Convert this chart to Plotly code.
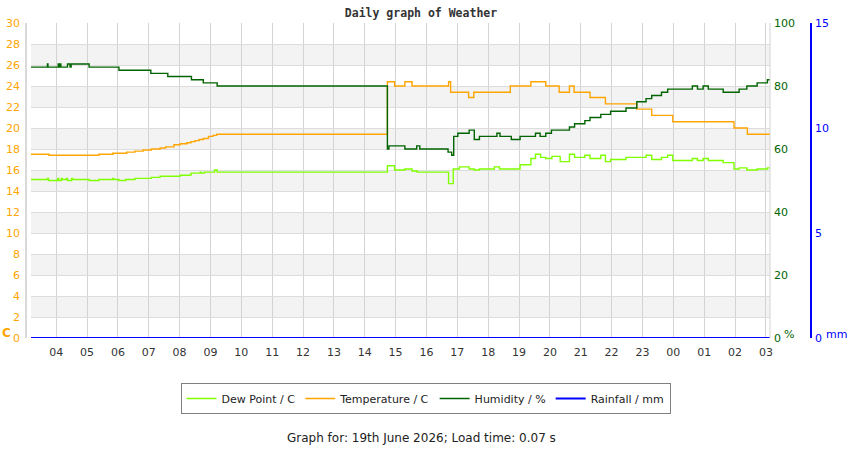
import plotly.graph_objects as go
import pandas as pd

# ---------------- data ----------------
BASE_DAY = "2026-06-18"
START_TIME = "03:10"

hum_times = ["03:10", "03:43", "03:44", "04:04", "04:06", "04:08", "04:09", "04:22", "04:27",
             "04:29", "05:04", "06:02", "07:04", "07:37",
             "08:23", "08:46", "09:13", "14:44", "14:47", "15:18", "15:41", "15:47", "16:42",
             "16:49", "16:53", "17:01", "17:23", "17:33", "17:43", "18:17", "18:23", "18:45",
             "19:02", "19:32", "19:41", "19:52", "20:03", "20:38", "20:48", "21:08", "21:18",
             "21:39", "21:58", "22:28", "22:49", "23:07", "23:18", "23:37", "23:49", "00:37",
             "00:47", "00:58", "01:08", "01:37", "02:08", "02:23", "02:43", "03:03", "03:08"]
hum_values = [86, 87, 86, 87, 86, 87, 86, 87, 86,
              87, 86, 85, 84, 83,
              82, 81, 80, 60, 61, 60, 61, 60, 59,
              58, 64, 65, 66, 63, 64, 65, 64, 63,
              64, 65, 64, 65, 66, 67, 68, 69, 70,
              71, 72, 73, 75, 76, 77, 78, 79, 80,
              79, 80, 79, 78, 79, 80, 81, 82, 82]

temp_times = ["03:10", "03:46", "05:23", "05:50", "06:17", "06:33", "06:49", "07:05", "07:22",
              "07:33", "07:49", "08:01", "08:14", "08:22", "08:30", "08:38", "08:46", "08:56",
              "09:05", "09:12", "14:44", "14:58", "15:18", "15:32", "16:43", "16:47", "17:22",
              "17:32", "18:43", "19:23", "19:52", "20:18", "20:38", "20:47", "21:18", "21:48",
              "22:49", "23:18", "23:59", "01:58", "02:24", "03:08"]
temp_values = [17.5, 17.4, 17.5, 17.6, 17.7, 17.8, 17.9, 18.0, 18.1,
               18.2, 18.4, 18.5, 18.6, 18.7, 18.8, 18.9, 19.0, 19.2,
               19.3, 19.4, 24.4, 24.0, 24.4, 24.0, 24.4, 23.4, 22.9,
               23.4, 24.0, 24.4, 24.0, 23.4, 24.0, 23.4, 22.9, 22.3,
               21.8, 21.2, 20.6, 20.0, 19.4, 19.4]

dew_times = ["03:10", "03:43", "03:45", "04:03", "04:05", "04:10", "04:12", "04:20", "04:22",
             "04:30", "04:32", "05:04", "05:23", "05:50", "05:52", "06:02", "06:15", "06:33",
             "07:05", "07:22", "08:01", "08:22", "08:40", "08:42", "08:48", "09:08", "09:13",
             "14:44", "14:58", "15:18", "15:32", "15:42", "16:43", "16:52", "17:04", "17:23",
             "17:33", "17:43", "18:12", "18:22", "19:02", "19:23", "19:32", "19:42", "19:52",
             "20:04", "20:20", "20:38", "20:48", "21:08", "21:18", "21:39", "21:48", "21:58",
             "22:28", "23:07", "23:18", "23:37", "23:49", "23:59", "00:37", "00:47", "00:58",
             "01:08", "01:37", "01:58", "02:08", "02:23", "02:43", "03:03", "03:08"]
dew_values = [15.1, 15.2, 15.0, 15.2, 15.0, 15.2, 15.1, 15.2, 15.0,
              15.2, 15.1, 15.0, 15.1, 15.2, 15.1, 15.0, 15.1, 15.2,
              15.3, 15.4, 15.5, 15.7, 15.8, 15.7, 15.8, 16.0, 15.8,
              16.4, 16.0, 16.1, 15.9, 15.8, 14.7, 16.1, 16.3, 16.1,
              16.0, 16.1, 16.3, 16.1, 16.5, 17.1, 17.5, 17.2, 17.1,
              17.3, 16.8, 17.5, 17.2, 17.4, 17.1, 17.4, 16.8, 17.0,
              17.2, 17.4, 17.0, 17.2, 17.4, 16.9, 17.1, 16.9, 17.1,
              16.9, 16.7, 16.1, 16.2, 16.0, 16.1, 16.2, 16.2]

rain_times = ["03:10", "03:08"]
rain_values = [0.0, 0.0]

x_range = ["2026-06-18 03:11", "2026-06-19 03:08"]
temp_ticks = list(range(0, 31, 2))
hum_ticks = [0, 20, 40, 60, 80, 100]
rain_ticks = [0, 5, 10, 15]

title_text = "Daily graph of Weather"
footer_text = "Graph for: 19th June 2026; Load time: 0.07 s"


def to_dt(times):
    base = pd.Timestamp(BASE_DAY)
    out = []
    for t in times:
        d = base + pd.Timedelta(days=1) if t < START_TIME else base
        out.append(pd.Timestamp(f"{d.date()} {t}"))
    return out


# ---------------- figure ----------------
C_DEW = "#7FFF00"
C_TEMP = "#FFA500"
C_HUM = "#006400"
C_RAIN = "#0000FF"
FONT = "DejaVu Sans"

fig = go.Figure()
fig.add_trace(go.Scatter(x=to_dt(dew_times), y=dew_values, name="Dew Point / C",
                         mode="lines", line=dict(color=C_DEW, width=1.4, shape="hv"), yaxis="y"))
fig.add_trace(go.Scatter(x=to_dt(temp_times), y=temp_values, name="Temperature / C",
                         mode="lines", line=dict(color=C_TEMP, width=1.4, shape="hv"), yaxis="y"))
fig.add_trace(go.Scatter(x=to_dt(hum_times), y=hum_values, name="Humidity / %",
                         mode="lines", line=dict(color=C_HUM, width=1.4, shape="hv"), yaxis="y2"))
fig.add_trace(go.Scatter(x=to_dt(rain_times), y=rain_values, name="Rainfall / mm",
                         mode="lines", line=dict(color=C_RAIN, width=2, shape="hv"), yaxis="y3"))

# alternating background bands
shapes = []
for lo in temp_ticks[1:-1:2]:
    shapes.append(dict(type="rect", xref="x domain", x0=0, x1=1, yref="y", y0=lo, y1=lo + 2,
                       fillcolor="#f3f3f3", line=dict(width=0), layer="below"))
# left axis line (offset) and right frame line
shapes.append(dict(type="line", xref="x domain", x0=-5 / 739, x1=-5 / 739, yref="paper", y0=0, y1=1,
                   line=dict(color="#cccccc", width=1.5)))
shapes.append(dict(type="line", xref="x domain", x0=1, x1=1, yref="paper", y0=0, y1=1,
                   line=dict(color="#d3d3d3", width=1)))

fig.update_layout(
    width=850, height=450,
    margin=dict(l=31, r=39, t=23, b=112, pad=0, autoexpand=False),
    paper_bgcolor="white", plot_bgcolor="white",
    font=dict(family=FONT, size=11, color="#333333"),
    title=dict(text=title_text, x=0.5, xref="paper", xanchor="center",
               y=1 - 13 / 450, yanchor="middle",
               font=dict(family="DejaVu Sans Mono", size=11.5, color="#333333", weight="bold")),
    xaxis=dict(type="date", domain=[0, 739 / 780], range=x_range, automargin=False,
               tick0="2026-06-18 00:00", dtick=3600000, tickformat="%H",
               showgrid=True, gridcolor="#d3d3d3", gridwidth=1,
               showline=False, zeroline=False, ticks="", ticklabelstandoff=6,
               tickfont=dict(size=11, color="#333333")),
    yaxis=dict(range=[0, 30], tickvals=temp_ticks, showgrid=True, gridcolor="#dddddd",
               gridwidth=1, zeroline=False, showline=False, ticks="", ticklabelstandoff=10,
               automargin=False, tickfont=dict(size=11, color=C_TEMP)),
    yaxis2=dict(range=[0, 100], tickvals=hum_ticks, overlaying="y", side="right", anchor="x",
                showgrid=False, zeroline=False, showline=False, ticks="", ticklabelstandoff=3,
                automargin=False, tickfont=dict(size=11, color=C_HUM)),
    yaxis3=dict(range=[0, 15], tickvals=rain_ticks, overlaying="y", side="right",
                anchor="free", position=1.0, showgrid=False, zeroline=False,
                showline=True, linecolor=C_RAIN, linewidth=1.5, ticks="", ticklabelstandoff=1,
                automargin=False, tickfont=dict(size=11, color=C_RAIN)),
    legend=dict(orientation="h", x=(425.5 - 31) / 780, xanchor="center",
                y=(338 - 383) / 315, yanchor="top", bordercolor="#808080", borderwidth=1,
                bgcolor="white", font=dict(family=FONT, size=11, color="#222222"),
                itemwidth=30, traceorder="normal"),
    shapes=shapes,
    annotations=[
        dict(text="<b>C</b>", xref="paper", yref="paper", x=(6 - 31) / 780, y=(338 - 333) / 315,
             showarrow=False, font=dict(size=12, color=C_TEMP), xanchor="center", yanchor="middle"),
        dict(text="%", xref="paper", yref="paper", x=(789 - 31) / 780, y=(338 - 334) / 315,
             showarrow=False, font=dict(size=11, color=C_HUM), xanchor="center", yanchor="middle"),
        dict(text="mm", xref="paper", yref="paper", x=(836 - 31) / 780, y=(338 - 334) / 315,
             showarrow=False, font=dict(size=11, color=C_RAIN), xanchor="center", yanchor="middle"),
        dict(text=footer_text, xref="paper", yref="paper", x=(421 - 31) / 780, y=(338 - 438) / 315,
             showarrow=False, font=dict(size=12, color="#222222"), xanchor="center", yanchor="middle"),
    ],
)

fig.write_html("out.html")
